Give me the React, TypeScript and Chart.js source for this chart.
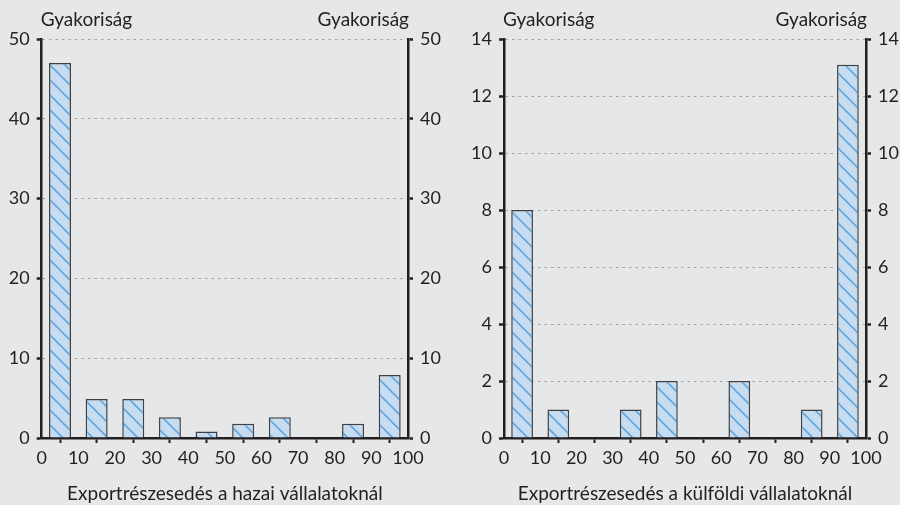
import React, { useEffect, useRef } from "react";
import { Chart, registerables } from "chart.js";

Chart.register(...registerables);

const binCenters = [5, 15, 25, 35, 45, 55, 65, 75, 85, 95];
const domesticFreq = [47, 4.9, 4.9, 2.6, 0.8, 1.8, 2.6, 0, 1.8, 7.9];
const foreignFreq = [8, 1, 0, 1, 2, 0, 2, 0, 1, 13.1];
const yLabel = "Gyakoriság";
const domesticTitle = "Exportrészesedés a hazai vállalatoknál";
const foreignTitle = "Exportrészesedés a külföldi vállalatoknál";

const BG = "#e6e7e8";
const INK = "#231f20";
const FONT = "Lato";

function makeHatch(): CanvasPattern | string {
  const c = document.createElement("canvas");
  c.width = 15;
  c.height = 15;
  const g = c.getContext("2d");
  if (!g) return "#c6dcf1";
  g.fillStyle = "#c6dcf1";
  g.fillRect(0, 0, 15, 15);
  g.strokeStyle = "#64a7dc";
  g.lineWidth = 1.6;
  g.beginPath();
  g.moveTo(-2, -2);
  g.lineTo(17, 17);
  g.moveTo(-2, 13);
  g.lineTo(2, 17);
  g.moveTo(13, -2);
  g.lineTo(17, 2);
  g.stroke();
  return g.createPattern(c, "repeat") || "#c6dcf1";
}

type Props = {
  values: number[];
  yMax: number;
  yStep: number;
  title: string;
  leftW: number;
  rightW: number;
};

function Histogram({ values, yMax, yStep, title, leftW, rightW }: Props) {
  const ref = useRef<HTMLCanvasElement>(null);
  useEffect(() => {
    if (!ref.current) return;
    const tickFont = { family: FONT, size: 18 };
    const labelFont = { family: FONT, size: 19 };
    const labelPlugin = {
      id: "yLabels",
      afterDraw(chart: any) {
        const { ctx, chartArea } = chart;
        ctx.save();
        ctx.fillStyle = INK;
        ctx.font = `19px ${FONT}`;
        ctx.textBaseline = "middle";
        ctx.textAlign = "left";
        ctx.fillText(yLabel, chartArea.left - 1, 20);
        ctx.textAlign = "right";
        ctx.fillText(yLabel, chartArea.right + 1, 20);
        ctx.restore();
      },
    };
    const yTicks = { stepSize: yStep, color: INK, font: tickFont, padding: 7 };
    const chart = new Chart(ref.current, {
      type: "bar",
      data: {
        datasets: [
          {
            data: binCenters.map((x, i) => ({ x, y: values[i] === 0 ? null : values[i] })) as any,
            backgroundColor: makeHatch() as any,
            borderColor: "#404040",
            borderWidth: 1.5,
            barPercentage: 0.6,
            categoryPercentage: 1,
            yAxisID: "y",
          },
        ],
      },
      options: {
        animation: false,
        responsive: false,
        layout: { padding: { top: 39, left: 0, right: 0, bottom: 0 } },
        plugins: { legend: { display: false }, tooltip: { enabled: false } },
        scales: {
          x: {
            type: "linear",
            min: 0,
            max: 100,
            offset: false,
            ticks: { stepSize: 10, color: INK, font: tickFont, padding: 4, maxRotation: 0, autoSkip: false },
            grid: { drawOnChartArea: false, drawTicks: true, tickLength: 5, tickColor: INK, tickWidth: 2 },
            border: { color: INK, width: 2.5 },
            title: { display: true, text: title, color: INK, font: labelFont, padding: { top: 12, bottom: 0 } },
            afterFit: (s: any) => {
              s.height = 67;
            },
          },
          y: {
            position: "left",
            min: 0,
            max: yMax,
            ticks: yTicks,
            grid: {
              color: "#a3a3a3",
              lineWidth: 1,
              tickColor: INK,
              tickWidth: 2.5,
              tickLength: 5,
              tickBorderDash: [],
            } as any,
            border: { color: INK, width: 2.5, dash: [2.5, 4] },
            afterFit: (s: any) => {
              s.width = leftW;
            },
          },
          y2: {
            position: "right",
            min: 0,
            max: yMax,
            ticks: yTicks,
            grid: { drawOnChartArea: false, tickColor: INK, tickWidth: 2.5, tickLength: 5 },
            border: { color: INK, width: 2.5 },
            afterFit: (s: any) => {
              s.width = rightW;
            },
          },
        },
      } as any,
      plugins: [labelPlugin],
    });
    return () => chart.destroy();
  }, [values, yMax, yStep, title, leftW, rightW]);
  return <canvas ref={ref} width={450} height={505} style={{ width: 450, height: 505, display: "block" }} />;
}

export default function App() {
  return (
    <div
      style={{
        position: "fixed",
        left: 0,
        top: 0,
        width: 900,
        height: 505,
        background: BG,
        display: "flex",
      }}
    >
      <Histogram values={domesticFreq} yMax={50} yStep={10} title={domesticTitle} leftW={41.7} rightW={42} />
      <Histogram values={foreignFreq} yMax={14} yStep={2} title={foreignTitle} leftW={54} rightW={34} />
    </div>
  );
}
